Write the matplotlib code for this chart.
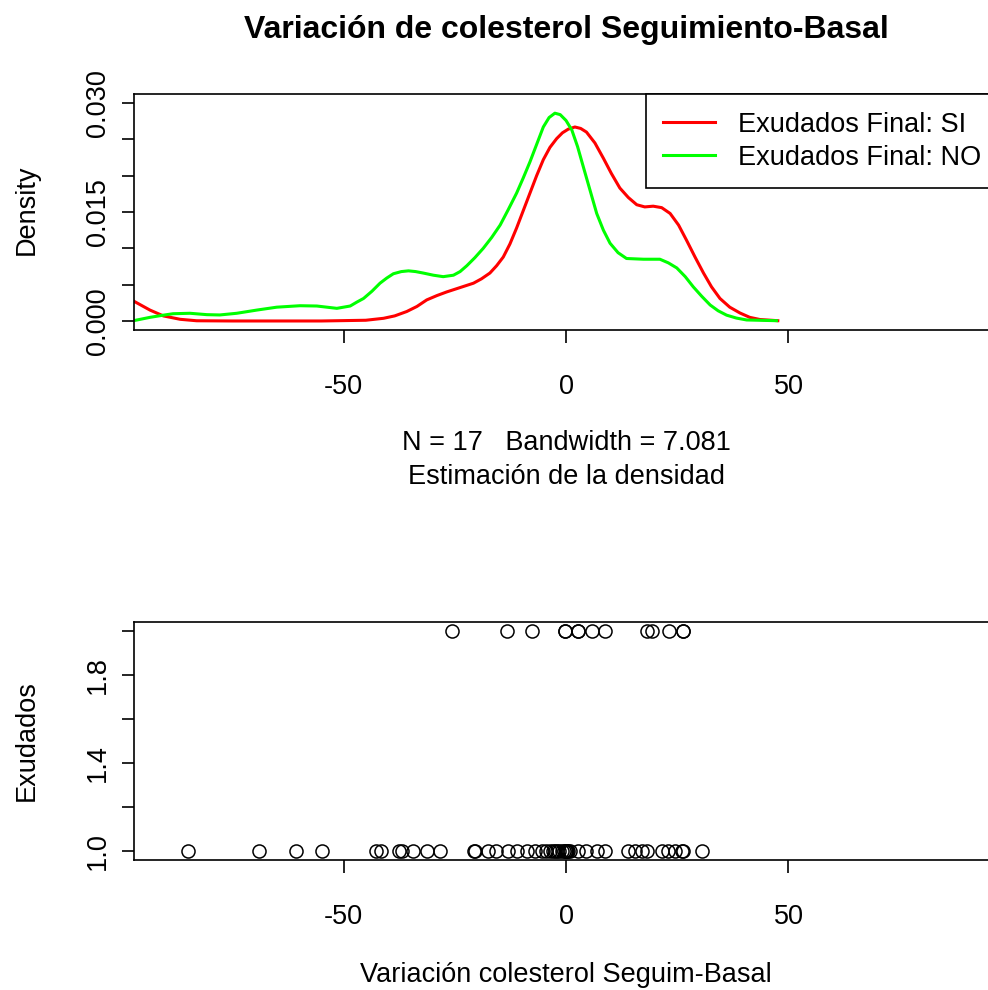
import numpy as np
import matplotlib.pyplot as plt

plt.rcParams['font.family'] = ['Liberation Sans', 'DejaVu Sans']

# density curve read points (x, density)
si_x = [-97.2, -93.5, -90.5, -86.7, -83, -75, -65, -55, -45, -41, -38.5,
        -35.8, -33.5, -31.3, -29, -26.8, -23.8, -20.8, -19, -17.1, -15.6,
        -14.1, -12.6, -11.1, -9.6, -8.1, -6.6, -5.1, -3.6, -2.1, -0.8, 0.5,
        2.0, 3.3, 4.6, 6.5, 8.4, 10.2, 12.1, 14.0, 15.9, 17.7, 19.6, 21.5,
        23.4, 25.3, 27.1, 29.0, 30.9, 32.7, 34.6, 36.8, 39.1, 41.3, 43.6, 47.6]
si_y = [0.00275, 0.0015, 0.0007, 0.00023, 0.00003, 0.0, 0.0, 0.0, 0.0001,
        0.00037, 0.0007, 0.0013, 0.0020, 0.0029, 0.0035, 0.0040, 0.0046,
        0.0052, 0.0058, 0.0066, 0.0076, 0.0088, 0.0106, 0.0128, 0.0152,
        0.0176, 0.0200, 0.0222, 0.0239, 0.0251, 0.0259, 0.0264, 0.0267,
        0.0265, 0.0260, 0.0245, 0.0224, 0.0203, 0.0183, 0.0170, 0.0160,
        0.0157, 0.0158, 0.0156, 0.0148, 0.0132, 0.0111, 0.0088, 0.0066,
        0.0047, 0.0031, 0.0019, 0.0011, 0.0005, 0.0002, 0.00004]

no_x = [-97.2, -93.5, -90.5, -88.3, -84.5, -80.7, -77.8, -74, -69.5, -65,
        -59.8, -56, -51.5, -48.5, -47, -45.5, -43.6, -41.8, -40.3, -38.8,
        -37, -35.4, -33.8, -32.1, -29.8, -27.6, -25.3, -23.8, -22.3, -20.5,
        -18.6, -16.7, -14.8, -13, -11.1, -9.6, -8.1, -6.6, -5.1, -3.8, -2.5,
        -1.3, 0.0, 1.3, 2.6, 3.9, 5.4, 6.9, 8.4, 9.9, 11.7, 13.6, 17.4,
        21.1, 23.0, 24.9, 26.8, 28.6, 30.5, 32.4, 34.2, 36.1, 38.3, 40.6, 47.3]
no_y = [0.00004, 0.0005, 0.0008, 0.0010, 0.00106, 0.00087, 0.00083, 0.00106,
        0.0015, 0.0019, 0.0021, 0.00206, 0.00174, 0.00206, 0.0026, 0.0031,
        0.0041, 0.0052, 0.0059, 0.0065, 0.0068, 0.0069, 0.0068, 0.0066,
        0.0063, 0.0061, 0.0063, 0.0068, 0.0076, 0.0087, 0.0100, 0.0115,
        0.0132, 0.0153, 0.0176, 0.0197, 0.0219, 0.0243, 0.0267, 0.0280,
        0.0286, 0.0284, 0.0276, 0.0263, 0.0240, 0.0212, 0.0180, 0.0148,
        0.0125, 0.0107, 0.0094, 0.0086, 0.0085, 0.0085, 0.0080, 0.0073,
        0.0061, 0.0047, 0.0034, 0.0022, 0.0014, 0.0008, 0.0004, 0.00014,
        0.00004]

# change in cholesterol by exudate group (1 = NO, 2 = SI)
var_si = [-25.7, -13.2, -7.6, -0.2, -0.2, 2.8, 2.8, 5.8, 8.8, 18.1, 19.3,
          23.2, 26.4, 26.4]
var_no = [-84.9, -68.9, -60.6, -54.9, -42.8, -41.5, -37.6, -36.9, -34.3,
          -31.3, -28.3, -20.6, -20.4, -17.5, -15.8, -13.0, -11.1, -8.8, -7.0,
          -5.5, -4.5, -3.6, -3.0, -2.5, -2.1, -1.5, -1.0, -0.5, 0.0, 0.1, 0.1,
          0.3, 0.5, 0.8, 2.8, 4.6, 6.9, 8.8, 14.0, 15.5, 17.0, 18.1, 21.5,
          23.0, 24.5, 26.0, 26.3, 30.5]

dens_yticks = [0.0, 0.005, 0.010, 0.015, 0.020, 0.025, 0.030]
dens_ylabels = ['0.000', '', '', '0.015', '', '', '0.030']
exu_yticks = [1.0, 1.2, 1.4, 1.6, 1.8, 2.0]
exu_ylabels = ['1.0', '', '1.4', '', '1.8', '']
xticks = [-50, 0, 50]
xlabels = ['-50', '0', '50']

W, H = 988, 990
fs = 19.5

fig = plt.figure(figsize=(W / 100, H / 100), dpi=100)


def style(ax):
    for s in ax.spines.values():
        s.set_color('black')
        s.set_linewidth(1.2)
    ax.tick_params(labelsize=fs, length=9, width=1.2, direction='out')
    ax.tick_params(axis='x', pad=23)
    ax.tick_params(axis='y', pad=7)
    for lab in ax.get_yticklabels():
        lab.set_rotation(90)
        lab.set_va('center')


# top panel: densities
ax1 = fig.add_axes([133.5 / W, 1 - 329.7 / H, 865 / W, 235.4 / H])
ax1.plot(si_x, si_y, color='#ff0000', lw=2.2, label='Exudados Final: SI')
ax1.plot(no_x, no_y, color='#00ff00', lw=2.2, label='Exudados Final: NO')
ax1.set_xlim(-97.2, 97.2)
ax1.set_ylim(-0.0012, 0.0312)
ax1.set_xticks(xticks, xlabels)
ax1.set_yticks(dens_yticks, dens_ylabels)
style(ax1)
leg = ax1.legend(loc='upper right', borderaxespad=0, fancybox=False,
                 edgecolor='black', framealpha=1, fontsize=fs,
                 handlelength=1.9, handletextpad=0.85, borderpad=0.65,
                 labelspacing=0.25)
leg.get_frame().set_linewidth(1.2)

# bottom panel: individual values
ax2 = fig.add_axes([133.5 / W, 1 - 859.8 / H, 865 / W, 237.6 / H])
ax2.plot(var_no, np.ones(len(var_no)), 'o', mfc='none', mec='black',
         ms=9.4, mew=1.1)
ax2.plot(var_si, np.full(len(var_si), 2.0), 'o', mfc='none', mec='black',
         ms=9.4, mew=1.1)
ax2.set_xlim(-97.2, 97.2)
ax2.set_ylim(0.96, 2.04)
ax2.set_xticks(xticks, xlabels)
ax2.set_yticks(exu_yticks, exu_ylabels)
style(ax2)

# titles and axis labels
fig.text(566 / W, 1 - 30 / H, 'Variación de colesterol Seguimiento-Basal',
         ha='center', va='center', fontsize=23, fontweight='bold')
fig.text(566 / W, 1 - 443 / H, 'N = 17   Bandwidth = 7.081',
         ha='center', va='center', fontsize=fs)
fig.text(566 / W, 1 - 477 / H, 'Estimación de la densidad',
         ha='center', va='center', fontsize=fs)
fig.text(27 / W, 1 - 210 / H, 'Density', rotation=90,
         ha='center', va='center', fontsize=fs)
fig.text(27 / W, 1 - 741 / H, 'Exudados', rotation=90,
         ha='center', va='center', fontsize=fs)
fig.text(566 / W, 1 - 975 / H, 'Variación colesterol Seguim-Basal',
         ha='center', va='center', fontsize=fs)

fig.savefig('out.png', dpi=100)
